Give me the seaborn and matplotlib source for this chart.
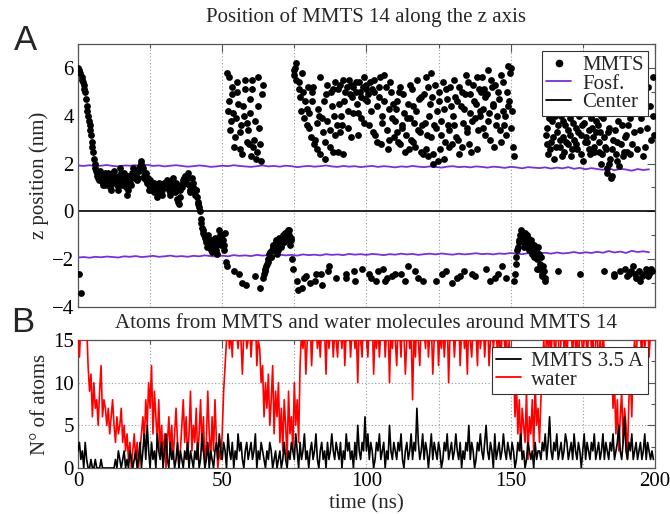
import numpy as np
import pandas as pd
import matplotlib
matplotlib.use("Agg")
import matplotlib.pyplot as plt
import seaborn as sns
from matplotlib.ticker import MultipleLocator
from matplotlib.lines import Line2D

# ---------------- data ----------------
# MMTS z position (nm), frames at 0, 0.5, ... 199.5 ns
mmts_z = [
    6.0, -2.6, -3.4, 5.6, 5.3, 5.0, 4.4, 4.0, 3.6, 3.2, 2.7, 2.2, 1.8, 1.6, 1.4, 1.6, 1.3, 1.2, 1.5, 1.1,
    1.3, 1.6, 1.2, 0.9, 1.4, 1.7, 1.5, 1.1, 1.3, 1.8, 1.4, 1.2, 1.6, 1.0, 0.7, 1.5, 1.2, 1.4, 1.8, 1.6,
    1.5, 1.3, 1.7, 1.9, 2.1, 1.8, 1.4, 1.6, 1.2, 1.1, 1.3, 0.9, 1.0, 1.2, 0.8, 0.6, 0.9, 1.1, 0.7, 1.0,
    1.2, 1.0, 1.3, 0.9, 0.7, 1.1, 1.4, 0.8, 1.2, 0.5, 0.3, 0.9, 1.0, 1.3, 1.5, 1.2, 1.6, 1.1, 0.9, 1.4,
    1.0, 0.7, 0.9, 0.4, 0.2, -0.3, -0.7, -0.9, -1.1, -1.3, -1.0, -1.5, -1.2, -1.7, -1.4, -1.1, -1.6, -1.3, -0.8, -1.2,
    -1.0, -1.4, -0.9, -2.3, 4.2, 5.6, 3.8, 4.9, -2.5, 3.1, 5.4, 4.5, 2.6, 3.6, -3.0, 4.0, 5.1, 2.9, 3.4, 4.7,
    2.3, 5.5, 3.0, -2.7, 2.5, 4.4, -3.2, 2.1, 5.3, -2.6, -2.4, -2.2, -2.0, -1.7, -1.9, -1.5, -1.6, -1.3, -1.8, -1.4,
    -1.2, -1.5, -1.0, -1.3, -0.9, -1.1, -0.8, -1.4, -1.2, -2.4, 5.9, 6.2, -2.9, 5.4, 4.8, -3.2, 5.0, 3.9, -2.7, 4.3,
    3.5, -3.0, 4.6, 5.2, 3.0, -2.6, 2.6, 4.0, 5.6, -3.1, 3.3, 2.2, 4.9, 3.8, -2.3, 2.7, 4.4, 5.1, 3.2, -2.8,
    2.5, 4.5, 5.3, 3.6, 2.4, 5.0, -2.6, 4.2, 5.5, 3.1, 4.8, 5.2, -2.9, 5.0, 4.1, 5.4, 3.9, -2.4, 5.6, 4.7,
    5.3, 4.9, 3.6, -2.8, 5.1, 5.5, 3.2, 4.4, -2.5, 5.2, 2.8, 4.0, 5.7, -2.9, 3.4, 2.6, 4.3, 5.0, -2.7, 3.1,
    3.8, 4.6, 2.9, 5.2, -2.6, 3.5, 4.1, 2.5, 3.9, -2.3, 5.3, 3.0, 4.4, 3.7, 2.7, 5.5, -2.8, 3.3, 4.8, 2.4,
    4.9, 5.6, 3.2, 2.3, 4.5, 5.8, 2.0, 3.6, -2.9, 4.2, 5.0, 2.6, 3.8, 5.4, 2.2, -2.5, 4.7, 3.4, 5.2, 2.8,
    4.0, 5.5, 3.1, 4.6, 2.4, -2.7, 5.0, 3.7, 4.3, 5.7, 3.3, 2.8, 4.9, -2.6, 5.3, 3.9, 4.5, 2.6, 5.1, 4.2,
    5.6, 3.5, 4.8, -2.4, 5.9, 4.1, 3.0, 5.2, 4.4, -2.8, 3.6, 5.0, 4.7, 2.9, -2.3, 5.4, 4.0, 3.2, 6.1, 4.6,
    6.0, 4.2, 2.3, -2.6, -1.9, -1.5, -1.2, -0.8, -1.0, -1.3, -0.9, -1.4, -1.1, -1.6, -1.2, -1.8, -1.4, -1.7, -2.0, -1.5,
    -2.4, -1.9, -2.7, -2.5, -2.8, 3.5, 2.4, 4.1, 2.9, 3.8, 2.2, 4.5, 3.3, -2.5, 2.7, 4.0, 3.1, 2.5, 3.6, 4.7,
    2.8, 3.9, 2.3, 4.2, 3.0, 3.5, 2.6, 4.4, -2.6, 3.2, 2.1, 3.7, 4.6, 2.9, 3.4, 2.4, 4.0, 3.1, 2.7, 3.8,
    4.3, 2.5, 3.3, 2.0, 3.9, -2.5, 2.6, 1.6, 3.5, 2.2, 1.5, 3.0, -2.7, 2.4, 2.9, 1.9, 4.8, 3.6, 2.3, -2.4,
    3.2, 2.5, -2.6, 3.9, 2.8, -2.3, 4.1, -2.8, 5.5, -2.5, 3.4, -2.7, 4.5, 2.7, -2.4, 5.2, -2.6, 3.0, -2.5, 4.0,
]
# MMTS z position (nm), interleaved frames at 0.25, 0.75, ... 199.75 ns
mmts_z_b = [
    5.9, 5.8, 5.5, 5.4, 5.1, 4.7, 4.2, 3.8, 3.4, 2.9, 2.5, 2.0, 1.7, 1.5, 1.3, 1.7, 1.4, 1.1, 1.6, 1.2,
    1.5, 1.4, 1.0, 1.2, 1.6, 1.3, 1.4, 0.9, 1.5, 1.6, 1.1, 1.3, 1.5, 1.2, 0.9, 1.3, 1.1, 1.6, 1.7, 1.4,
    1.7, 1.4, 1.8, 2.0, 1.9, 1.5, 1.6, 1.3, 1.4, 0.9, 1.1, 1.2, 0.8, 1.0, 0.9, 0.8, 1.2, 0.9, 0.9, 1.2,
    1.0, 1.2, 1.1, 0.8, 0.9, 1.3, 1.2, 1.0, 0.9, 0.4, 0.6, 1.1, 1.2, 1.4, 1.3, 1.5, 1.4, 0.8, 1.1, 1.2,
    0.8, 0.9, 0.6, 0.3, 0.0, -0.5, -0.8, -1.0, -1.2, -1.5, -1.2, -1.3, -1.6, -1.5, -1.2, -1.4, -1.8, -1.1, -1.0, -1.4,
    -1.2, -1.6, -2.1, 5.8, 4.6, 3.4, 5.2, 4.1, 2.7, 3.9, 5.0, -2.6, 3.3, 2.4, 4.4, 5.5, -3.1, 3.7, 2.8, 4.1,
    5.1, 2.7, 3.8, 2.2, 5.6, 3.5, 2.8, 4.9, -2.8, -2.5, -2.3, -2.1, -1.8, -1.9, -1.6, -1.4, -1.5, -1.2, -1.6, -1.1,
    -1.4, -1.1, -1.3, -0.9, -1.2, -0.8, -1.0, -1.1, -2.0, 5.7, 6.0, 5.5, -3.3, 5.1, 4.2, 5.8, -2.8, 4.6, 3.6, 5.2,
    4.1, 3.1, 5.0, 2.8, -2.9, 3.7, 4.3, 2.4, -2.6, 3.9, 4.6, 2.9, 5.3, -2.5, 3.4, 5.0, 2.5, 4.0, 5.4, 3.6,
    5.1, 3.3, 4.0, 5.5, 4.6, -2.8, 5.2, 3.5, 4.9, 5.3, 4.1, -2.5, 5.4, 4.5, 3.2, 5.0, 4.8, 5.2, 3.7, 5.1,
    4.6, -2.6, 5.4, 4.2, 3.3, 5.0, -2.9, 2.9, 4.8, 5.6, 3.7, -2.4, 4.6, 5.2, -2.8, 3.0, 5.4, 3.9, 4.5, -2.6,
    4.3, 3.3, 5.0, 2.8, 3.6, 4.9, -2.9, 3.2, 4.5, 2.6, 3.9, 5.1, 2.9, -2.5, 4.2, 3.4, 4.7, 2.5, 3.6, -2.9,
    3.7, 2.6, 5.2, 4.0, 3.1, 4.8, 2.4, 5.3, 3.5, 2.1, 4.6, 3.2, -2.6, 4.3, 2.9, 5.1, 3.6, 2.7, 4.4, -3.0,
    3.6, 4.8, -2.8, 3.0, 5.2, 4.4, 2.7, -2.5, 4.9, 3.5, 5.4, 4.1, 2.5, 3.8, 4.6, -2.7, 5.6, 3.4, 4.0, 5.0,
    4.3, 5.1, 3.2, 4.9, 3.8, -2.9, 5.5, 4.5, 2.7, 5.3, 4.0, -2.6, 3.4, 5.7, 4.2, 3.6, -2.8, 5.0, 4.4, 5.8,
    3.5, 2.7, -2.9, -2.2, -1.6, -1.3, -1.0, -1.1, -0.9, -1.5, -1.2, -1.0, -1.5, -1.3, -1.7, -1.4, -1.9, -1.6, -2.4, -1.8,
    -2.2, -2.6, -2.3, -2.9, 3.2, 2.8, 3.9, 2.6, 4.3, 3.1, 4.0, 2.7, 3.6, 4.4, 3.0, 2.3, 3.8, 4.2, 2.9, 3.4,
    4.1, 3.2, 2.6, 3.7, 4.5, 2.8, 3.3, 4.0, 2.4, 3.6, 4.3, 2.9, 3.1, 4.7, 2.6, 3.9, 3.5, 2.5, 4.1, 3.3,
    3.6, 2.9, 4.0, 2.4, 3.1, 2.7, 1.8, 3.3, 2.0, 1.4, 2.6, -2.6, 3.4, 2.1, 3.8, -2.5, 2.8, 4.2, 2.5, 3.1,
    -2.7, 3.6, 2.4, -2.5, 4.6, 3.3, -2.6, 2.6, 4.8, -2.9, 3.9, 2.3, -2.6, 5.0, 3.5, -2.7, 4.4, -2.4, 5.6, 3.2,
]

# phosphate planes (nm), one value every 2 ns
fosf_up = [
    1.92, 1.90, 1.93, 1.89, 1.91, 1.94, 1.90, 1.88, 1.92, 1.91,
    1.93, 1.89, 1.95, 1.90, 1.92, 1.88, 1.91, 1.93, 1.90, 1.87,
    1.89, 1.92, 1.90, 1.86, 1.88, 1.91, 1.89, 1.93, 1.90, 1.88,
    1.86, 1.89, 1.92, 1.88, 1.90, 1.87, 1.91, 1.89, 1.85, 1.88,
    1.90, 1.87, 1.89, 1.92, 1.88, 1.86, 1.90, 1.87, 1.89, 1.85,
    1.88, 1.90, 1.86, 1.89, 1.87, 1.84, 1.88, 1.86, 1.90, 1.87,
    1.85, 1.88, 1.86, 1.83, 1.87, 1.89, 1.85, 1.87, 1.84, 1.88,
    1.86, 1.83, 1.87, 1.85, 1.82, 1.86, 1.84, 1.80, 1.85, 1.83,
    1.81, 1.84, 1.79, 1.83, 1.80, 1.85, 1.78, 1.82, 1.76, 1.81,
    1.77, 1.74, 1.80, 1.72, 1.78, 1.75, 1.70, 1.77, 1.73, 1.76,
]
fosf_lo = [
    -1.93, -1.91, -1.94, -1.90, -1.92, -1.89, -1.91, -1.93, -1.88, -1.90,
    -1.87, -1.91, -1.89, -1.86, -1.90, -1.88, -1.85, -1.89, -1.87, -1.90,
    -1.86, -1.88, -1.84, -1.87, -1.89, -1.85, -1.88, -1.83, -1.86, -1.84,
    -1.87, -1.82, -1.85, -1.83, -1.86, -1.81, -1.84, -1.82, -1.85, -1.80,
    -1.83, -1.81, -1.84, -1.79, -1.82, -1.80, -1.83, -1.78, -1.81, -1.79,
    -1.82, -1.78, -1.80, -1.83, -1.79, -1.81, -1.77, -1.80, -1.78, -1.82,
    -1.79, -1.77, -1.80, -1.76, -1.79, -1.81, -1.77, -1.80, -1.78, -1.75,
    -1.79, -1.77, -1.80, -1.76, -1.78, -1.74, -1.77, -1.79, -1.75, -1.78,
    -1.76, -1.73, -1.77, -1.72, -1.76, -1.74, -1.70, -1.75, -1.71, -1.74,
    -1.69, -1.73, -1.66, -1.72, -1.68, -1.74, -1.65, -1.70, -1.67, -1.71,
]
center_z = [0.0, 0.0]
center_t = [0.0, 200.0]

# number of water molecules around MMTS 14, every 0.5 ns
water_n = [
    16, 13, 17, 18, 15, 16, 17, 12, 9, 11, 6, 10, 7, 8, 5, 9, 12, 6, 8, 7,
    5, 7, 4, 6, 8, 5, 3, 6, 4, 5, 7, 3, 5, 2, 4, 1, 3, 0, 2, 4,
    1, 3, 0, 2, 4, 6, 3, 8, 5, 10, 7, 12, 4, 9, 6, 3, 8, 2, 5, 1,
    4, 0, 3, 6, 2, 5, 1, 4, 7, 3, 0, 2, 5, 8, 3, 6, 1, 4, 9, 2,
    5, 3, 7, 1, 4, 8, 2, 6, 0, 3, 9, 4, 1, 6, 2, 8, 3, 0, 2, 1,
    4, 9, 12, 15, 17, 14, 16, 13, 18, 15, 16, 14, 17, 15, 11, 16, 18, 14, 15, 17,
    13, 16, 15, 18, 12, 15, 14, 10, 12, 6, 10, 7, 11, 5, 8, 12, 4, 9, 6, 10,
    3, 7, 2, 8, 5, 1, 9, 4, 6, 2, 10, 5, 8, 3, 12, 16, 14, 17, 11, 15,
    15, 17, 12, 16, 15, 18, 14, 16, 13, 17, 15, 16, 11, 18, 14, 16, 17, 13, 16, 15,
    13, 17, 16, 14, 18, 12, 16, 15, 17, 13, 16, 18, 14, 16, 10, 17, 15, 13, 18, 16,
    16, 13, 17, 15, 18, 11, 16, 14, 17, 13, 16, 15, 18, 13, 16, 17, 10, 16, 14, 18,
    15, 12, 17, 16, 13, 18, 16, 11, 15, 17, 14, 16, 8, 16, 13, 18, 15, 12, 17, 16,
    16, 14, 18, 13, 16, 17, 11, 15, 16, 18, 12, 16, 14, 17, 13, 16, 18, 10, 16, 15,
    17, 13, 16, 15, 18, 12, 16, 17, 14, 16, 11, 18, 15, 13, 17, 16, 16, 12, 18, 14,
    16, 17, 13, 16, 18, 12, 15, 17, 14, 16, 16, 13, 18, 11, 16, 17, 14, 16, 12, 15,
    12, 9, 13, 6, 10, 4, 8, 2, 7, 5, 3, 9, 1, 6, 4, 8, 2, 10, 5, 7,
    3, 8, 12, 15, 11, 17, 14, 16, 12, 18, 15, 13, 17, 16, 10, 16, 18, 14, 16, 12,
    17, 15, 16, 13, 18, 14, 16, 11, 17, 16, 13, 15, 18, 12, 16, 17, 14, 16, 10, 15,
    16, 12, 15, 11, 17, 13, 14, 10, 12, 9, 13, 7, 10, 4, 8, 2, 6, 9, 3, 7,
    5, 1, 8, 11, 6, 13, 15, 12, 17, 15, 16, 12, 18, 14, 16, 17, 13, 16, 15, 18,
]
# number of MMTS atoms within 3.5 A, every 0.5 ns
mmts_n = [
    2, 3, 1, 2, 0, 3, 1, 0, 0, 1, 0, 0, 1, 0, 0, 0, 1, 0, 0, 0,
    0, 0, 0, 0, 0, 0, 1, 0, 2, 1, 0, 1, 2, 0, 1, 0, 2, 1, 0, 1,
    2, 0, 1, 3, 0, 2, 4, 1, 5, 2, 0, 3, 1, 2, 0, 4, 2, 1, 3, 0,
    2, 4, 1, 0, 3, 1, 2, 0, 1, 3, 0, 2, 1, 0, 2, 1, 3, 0, 2, 1,
    0, 2, 1, 3, 0, 1, 4, 2, 0, 1, 3, 0, 2, 1, 0, 2, 3, 1, 4, 2,
    1, 3, 2, 0, 4, 2, 1, 3, 0, 2, 1, 4, 2, 3, 1, 0, 2, 3, 1, 2,
    3, 1, 2, 4, 0, 2, 1, 3, 2, 1, 0, 2, 1, 3, 2, 0, 1, 2, 0, 1,
    2, 0, 1, 3, 1, 0, 2, 1, 3, 2, 1, 4, 2, 0, 3, 1, 2, 4, 1, 2,
    0, 2, 3, 1, 2, 4, 1, 0, 2, 3, 1, 2, 0, 3, 1, 2, 4, 2, 1, 3,
    2, 1, 3, 0, 2, 1, 4, 2, 3, 1, 2, 0, 3, 1, 5, 2, 1, 3, 2, 6,
    2, 4, 1, 3, 2, 0, 1, 3, 2, 4, 1, 2, 3, 0, 2, 1, 5, 2, 1, 3,
    2, 1, 3, 2, 4, 1, 0, 2, 3, 1, 2, 4, 1, 3, 2, 7, 3, 1, 2, 4,
    1, 3, 2, 0, 2, 4, 1, 3, 2, 1, 3, 2, 0, 1, 3, 2, 4, 1, 2, 3,
    1, 2, 4, 2, 1, 3, 0, 2, 1, 3, 2, 5, 1, 3, 2, 0, 1, 3, 2, 4,
    2, 1, 3, 5, 2, 1, 3, 2, 0, 4, 1, 2, 3, 1, 2, 4, 2, 1, 3, 2,
    1, 3, 2, 0, 1, 3, 2, 4, 1, 2, 0, 1, 3, 2, 1, 2, 0, 3, 1, 2,
    2, 1, 3, 2, 4, 1, 3, 6, 2, 1, 3, 2, 4, 1, 2, 3, 1, 2, 4, 3,
    1, 2, 3, 1, 4, 2, 1, 3, 2, 0, 2, 4, 1, 3, 2, 1, 3, 2, 4, 1,
    2, 3, 1, 2, 4, 1, 3, 2, 1, 3, 2, 4, 1, 2, 3, 5, 2, 1, 3, 6,
    2, 1, 3, 2, 4, 1, 2, 3, 1, 2, 3, 1, 2, 4, 1, 3, 2, 1, 2, 1,
]

t_a = np.arange(len(mmts_z)) * 0.5
t_b = np.arange(len(mmts_z_b)) * 0.5 + 0.25
t_fosf = np.arange(len(fosf_up)) * 2.0
t_n = np.arange(len(water_n)) * 0.5

# ---------------- style ----------------
sns.set_theme(style="white")
plt.rcParams['font.family'] = ['Liberation Serif', 'DejaVu Serif']

FS = 15
FOSF = '#7a2fd8'
fig = plt.figure(figsize=(6.7, 5.14), dpi=100)
ax1 = fig.add_axes([0.1164, 0.4027, 0.861, 0.5117])
ax2 = fig.add_axes([0.1164, 0.0895, 0.861, 0.249])

df_top = pd.DataFrame({'t': np.concatenate([t_a, t_b]),
                       'z': np.concatenate([mmts_z, mmts_z_b])})
df_fu = pd.DataFrame({'t': t_fosf, 'z': fosf_up})
df_fl = pd.DataFrame({'t': t_fosf, 'z': fosf_lo})
df_c = pd.DataFrame({'t': center_t, 'z': center_z})

sns.lineplot(data=df_c, x='t', y='z', ax=ax1, color='black', lw=1.2, zorder=2)
sns.lineplot(data=df_fu, x='t', y='z', ax=ax1, color=FOSF, lw=1.3, zorder=3)
sns.lineplot(data=df_fl, x='t', y='z', ax=ax1, color=FOSF, lw=1.3, zorder=3)
sns.scatterplot(data=df_top, x='t', y='z', ax=ax1, color='black', s=24,
                edgecolor='black', linewidth=0, zorder=4)

df_w = pd.DataFrame({'t': t_n, 'n': water_n})
df_m = pd.DataFrame({'t': t_n, 'n': mmts_n})
sns.lineplot(data=df_w, x='t', y='n', ax=ax2, color='red', lw=1.2, zorder=3)
sns.lineplot(data=df_m, x='t', y='n', ax=ax2, color='black', lw=1.2, zorder=4)

for ax in (ax1, ax2):
    ax.set_xlim(0, 200)
    ax.xaxis.set_major_locator(MultipleLocator(50))
    ax.xaxis.set_minor_locator(MultipleLocator(25))
    ax.grid(which='both', axis='x', color='#999999', ls=(0, (1, 2)), lw=0.8)
    ax.tick_params(which='both', direction='in', top=True, right=True,
                   colors='#555555', labelcolor='black', labelsize=FS, pad=3)
    ax.tick_params(which='major', length=6, width=0.8)
    ax.tick_params(which='minor', length=3, width=0.8)
    for sp in ax.spines.values():
        sp.set_color('#555555')
        sp.set_linewidth(0.9)
    ax.set_axisbelow(True)

ax1.set_ylim(-4, 7)
ax1.yaxis.set_minor_locator(MultipleLocator(1))
ax1.set_yticks([-4, -2, 0, 2, 4, 6])
ax1.set_xticklabels([])
ax1.set_xlabel('')
ax1.set_ylabel('z position (nm)', fontsize=FS, labelpad=2)

ax2.set_ylim(0, 15)
ax2.yaxis.set_major_locator(MultipleLocator(5))
ax2.yaxis.set_minor_locator(MultipleLocator(2.5))
ax2.grid(which='major', axis='y', color='#999999', ls=(0, (1, 2)), lw=0.8)
ax2.set_xlabel('time (ns)', fontsize=FS, labelpad=2.5)
ax2.set_ylabel('N° of atoms', fontsize=FS, labelpad=2)

h1 = [Line2D([], [], marker='o', ls='none', color='black', markersize=4.5),
      Line2D([], [], color=FOSF, lw=1.3),
      Line2D([], [], color='black', lw=1.3)]
leg1 = ax1.legend(h1, ['MMTS', 'Fosf.', 'Center'], loc='upper right',
                  fontsize=FS, frameon=True, fancybox=False, edgecolor='#333333',
                  framealpha=1, borderpad=0.2, labelspacing=-0.05, handlelength=1.2,
                  handletextpad=0.5, borderaxespad=0.35)
leg1.get_frame().set_linewidth(0.8)
leg1.set_zorder(10)

h2 = [Line2D([], [], color='black', lw=1.3), Line2D([], [], color='red', lw=1.3)]
leg2 = ax2.legend(h2, ['MMTS 3.5 A', 'water'], loc='upper right',
                  fontsize=FS, frameon=True, fancybox=False, edgecolor='#333333',
                  framealpha=1, borderpad=0.2, labelspacing=-0.05, handlelength=1.2,
                  handletextpad=0.5, borderaxespad=0.35)
leg2.get_frame().set_linewidth(0.8)
leg2.set_zorder(10)

fig.text(0.547, 1 - 17 / 514, 'Position of MMTS 14 along the z axis',
         ha='center', va='center', fontsize=FS)
fig.text(0.547, 1 - 323 / 514, 'Atoms from MMTS and water molecules around MMTS 14',
         ha='center', va='center', fontsize=FS)
fig.text(0.038, 1 - 40 / 514, 'A', ha='center', va='center', fontsize=25,
         family=['Liberation Sans', 'DejaVu Sans'])
fig.text(0.034, 1 - 323 / 514, 'B', ha='center', va='center', fontsize=25,
         family=['Liberation Sans', 'DejaVu Sans'])

fig.savefig('out.png', dpi=100)
